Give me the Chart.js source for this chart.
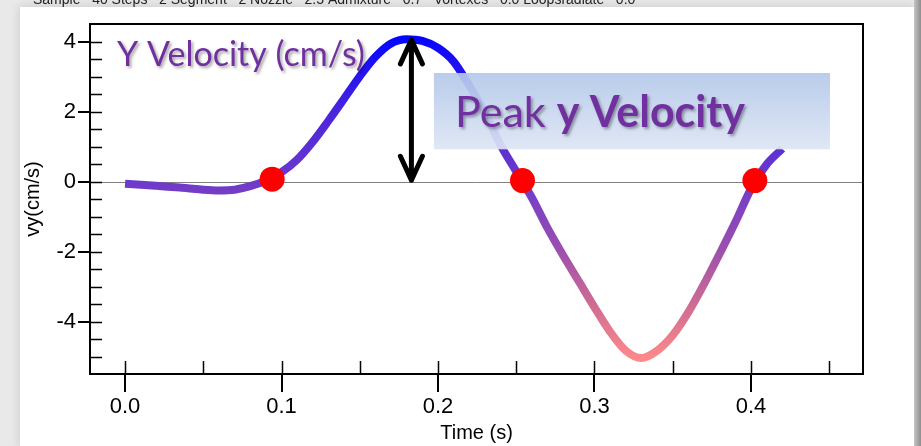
<!DOCTYPE html>
<html lang="en">
<head>
<meta charset="UTF-8">
<title>Y Velocity</title>
<script src="https://cdn.jsdelivr.net/npm/chart.js"></script>
<style>
  html, body { margin: 0; padding: 0; width: 921px; height: 446px; overflow: hidden; background: #e9e9e9; }
  .card { position: absolute; left: 20px; top: 7px; width: 894px; height: 439px; background: #fff; box-shadow: 0 0 10px rgba(0,0,0,0.15); }
  .edge { position: absolute; left: 914px; top: 0; width: 7px; height: 446px; background: linear-gradient(to right, #c4c4c4, #8e8e8e); }
  #wrap { position: absolute; left: 0; top: 0; width: 921px; height: 446px; }
</style>
</head>
<body>
<div class="card"></div>
<div class="edge"></div>
<div id="wrap"><canvas id="vyChart" width="921" height="446"></canvas></div>

<script>
  // values
  const timeValues = [0.00, 0.01, 0.02, 0.03, 0.04, 0.05, 0.06, 0.07, 0.08, 0.09,
                      0.10, 0.11, 0.12, 0.13, 0.14, 0.15, 0.16, 0.17, 0.18, 0.19,
                      0.20, 0.21, 0.22, 0.23, 0.24, 0.25, 0.26, 0.27, 0.28, 0.29,
                      0.30, 0.31, 0.32, 0.33, 0.34, 0.35, 0.36, 0.37, 0.38, 0.39,
                      0.40, 0.41, 0.42];
  const vyValues = [-0.05, -0.08, -0.11, -0.14, -0.18, -0.22, -0.24, -0.22, -0.12, 0.04,
                    0.28, 0.64, 1.15, 1.75, 2.38, 3.02, 3.58, 3.96, 4.08, 4.03,
                    3.83, 3.44, 2.75, 1.98, 1.05, 0.30, -0.45, -1.32, -2.10, -2.84,
                    -3.58, -4.28, -4.82, -5.03, -4.82, -4.38, -3.72, -2.92, -2.05, -1.15,
                    -0.20, 0.50, 0.95];
  const crossTimes = [0.094, 0.254, 0.4025];
  const crossValues = [0.08, 0.04, 0.04];
  const xTicks = [0, 0.1, 0.2, 0.3, 0.4];
  const yTicks = [-4, -2, 0, 2, 4];
  const peakTime = 0.183;
  const peakValue = 4.06;
  const headerText = "Sample   40 Steps   2 Segment   2 Nozzle   2.5 Admixture   0.7   Vortexes   0.0 Loopsradiate   0.0";

  const purple = "#7030a0";

  function lineGradient(context) {
    const chart = context.chart;
    const { ctx, chartArea, scales } = chart;
    if (!chartArea) return "#6e3acb";
    const y = scales.y;
    const top = 4.1, bottom = -5.1;
    const g = ctx.createLinearGradient(0, y.getPixelForValue(top), 0, y.getPixelForValue(bottom));
    const stops = [[4.1, "#0505ff"], [2.0, "#4a25dd"], [0, "#6e3acb"], [-2.0, "#9e50ad"], [-3.5, "#cf6c93"], [-5.1, "#ff8a8a"]];
    stops.forEach(s => g.addColorStop((top - s[0]) / (top - bottom), s[1]));
    return g;
  }

  const decor = {
    id: "decor",
    beforeDatasetsDraw(chart) {
      const { ctx, chartArea: a, scales: { y } } = chart;
      ctx.save();
      ctx.strokeStyle = "#808080";
      ctx.lineWidth = 1;
      const y0 = Math.round(y.getPixelForValue(0)) + 0.5;
      ctx.beginPath();
      ctx.moveTo(a.left, y0);
      ctx.lineTo(a.right, y0);
      ctx.stroke();
      ctx.restore();
    },
    afterDatasetsDraw(chart) {
      const { ctx, scales: { x, y } } = chart;
      ctx.save();

      // double arrow at the peak
      const ax = x.getPixelForValue(peakTime);
      const aTop = y.getPixelForValue(peakValue);
      const aBot = y.getPixelForValue(0.05);
      ctx.strokeStyle = "#000";
      ctx.lineWidth = 5;
      ctx.lineCap = "round";
      ctx.lineJoin = "round";
      ctx.beginPath();
      ctx.moveTo(ax, aTop);
      ctx.lineTo(ax, aBot);
      ctx.moveTo(ax - 11, aTop + 24);
      ctx.lineTo(ax, aTop);
      ctx.lineTo(ax + 11, aTop + 24);
      ctx.moveTo(ax - 11, aBot - 24);
      ctx.lineTo(ax, aBot);
      ctx.lineTo(ax + 11, aBot - 24);
      ctx.stroke();

      // label box
      const bx1 = x.getPixelForValue(0.1974), bx2 = x.getPixelForValue(0.4505);
      const by1 = y.getPixelForValue(3.114), by2 = y.getPixelForValue(0.934);
      const g = ctx.createLinearGradient(0, by1, 0, by2);
      g.addColorStop(0, "rgba(180,200,233,0.92)");
      g.addColorStop(1, "rgba(221,229,244,0.92)");
      ctx.fillStyle = g;
      ctx.fillRect(bx1, by1, bx2 - bx1, by2 - by1);

      ctx.shadowColor = "rgba(0,0,0,0.35)";
      ctx.shadowOffsetX = 2;
      ctx.shadowOffsetY = 2;
      ctx.shadowBlur = 3;
      ctx.fillStyle = purple;
      ctx.textBaseline = "alphabetic";
      ctx.textAlign = "left";

      const px = x.getPixelForValue(0.2109), py = y.getPixelForValue(1.58);
      ctx.font = "43px Lato";
      ctx.fillText("Peak ", px, py);
      const w = ctx.measureText("Peak ").width;
      ctx.font = "bold 43px Lato";
      ctx.fillText("y Velocity", px + w, py);

      ctx.font = "34px Lato";
      ctx.fillText("Y Velocity (cm/s)", x.getPixelForValue(-0.0051), y.getPixelForValue(3.32));
      ctx.restore();
    },
    afterDraw(chart) {
      const { ctx, chartArea: a, scales: { x, y } } = chart;
      ctx.save();
      ctx.strokeStyle = "#000";
      ctx.lineWidth = 1.5;
      ctx.beginPath();
      for (let v = -5; v <= 4.01; v += 0.5) {
        const py = Math.round(y.getPixelForValue(v)) + 0.5;
        ctx.moveTo(a.left, py);
        ctx.lineTo(a.left + 12, py);
      }
      for (let t = 0; t <= 0.451; t += 0.05) {
        const px = Math.round(x.getPixelForValue(t)) + 0.5;
        ctx.moveTo(px, a.bottom);
        ctx.lineTo(px, a.bottom - 13);
      }
      ctx.stroke();
      ctx.lineWidth = 2;
      ctx.strokeRect(a.left, a.top, a.right - a.left, a.bottom - a.top);

      ctx.fillStyle = "#222";
      ctx.font = "14px 'Liberation Sans'";
      ctx.textBaseline = "alphabetic";
      ctx.fillText(headerText, 33, 4);
      ctx.restore();
    }
  };

  new Chart(document.getElementById("vyChart"), {
    type: "line",
    data: {
      datasets: [
        {
          label: "crossings",
          data: crossTimes.map((t, i) => ({ x: t, y: crossValues[i] })),
          showLine: false,
          pointRadius: 12.5,
          pointBackgroundColor: "#ff0000",
          pointBorderWidth: 0,
          order: 0
        },
        {
          label: "vy",
          data: timeValues.map((t, i) => ({ x: t, y: vyValues[i] })),
          borderColor: lineGradient,
          borderWidth: 8,
          pointRadius: 0,
          cubicInterpolationMode: "monotone",
          fill: false,
          order: 1
        }
      ]
    },
    options: {
      responsive: false,
      animation: false,
      layout: { padding: { top: 24, right: 58, left: 0, bottom: 0 } },
      plugins: { legend: { display: false }, tooltip: { enabled: false } },
      scales: {
        x: {
          type: "linear",
          min: -0.0224,
          max: 0.4716,
          afterBuildTicks: s => { s.ticks = xTicks.map(v => ({ value: v })); },
          afterFit: s => { s.height = 72; },
          ticks: {
            color: "#000",
            padding: 2,
            maxRotation: 0,
            font: { family: "'Liberation Sans', Arial", size: 22 },
            callback: v => Number(v).toFixed(1)
          },
          grid: { display: true, drawOnChartArea: false, drawTicks: true, tickLength: 18, color: "#000", lineWidth: 2 },
          border: { display: false },
          title: { display: true, text: "Time (s)", color: "#000", font: { family: "'Liberation Sans', Arial", size: 20 }, padding: { top: 0, bottom: 1 } }
        },
        y: {
          min: -5.486,
          max: 4.514,
          afterBuildTicks: s => { s.ticks = yTicks.map(v => ({ value: v })); },
          afterFit: s => { s.width = 90; },
          ticks: {
            color: "#000",
            padding: 2,
            font: { family: "'Liberation Sans', Arial", size: 22 },
            callback: v => String(v)
          },
          grid: { display: true, drawOnChartArea: false, drawTicks: true, tickLength: 12, color: "#000", lineWidth: 2 },
          border: { display: false },
          title: { display: true, text: "vy(cm/s)", color: "#000", font: { family: "'Liberation Sans', Arial", size: 20 }, padding: { top: 21, bottom: 0 } }
        }
      }
    },
    plugins: [decor]
  });
</script>
</body>
</html>
